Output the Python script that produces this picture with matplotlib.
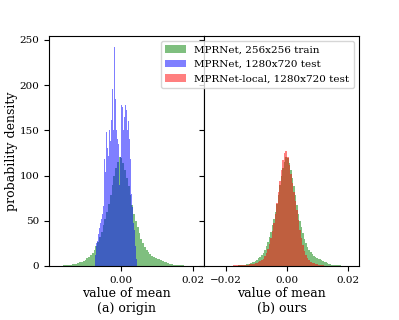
import numpy as np
import matplotlib
matplotlib.use("Agg")
import matplotlib.pyplot as plt

plt.rcParams['font.family'] = 'DejaVu Serif'

# ---- data (density per bin) ----
# MPRNet, 256x256 train : bins of 0.0005 from -0.018 to 0.0215
train_range = (-0.018, 0.0215)
train_density = [
    0.2, 0.25, 0.3, 0.4, 0.5, 0.6, 0.8, 1.0, 1.3, 1.6,
    2.0, 2.5, 3.1, 3.8, 4.7, 5.7, 7.0, 8.5, 10.2, 12.2,
    14.8, 18, 22, 27, 32, 38, 45, 52, 60, 69,
    79, 89, 99, 108, 115, 120,
    119, 114, 106, 97, 88, 78, 67, 58, 50, 43,
    36, 30, 25, 21, 18, 15.5, 13.5, 11.5, 10, 8.8,
    8.0, 7.2, 6.4, 5.5, 4.6, 3.8, 3.0, 2.4, 1.9, 1.5,
    1.2, 1.0, 0.8, 0.65, 0.55, 0.45, 0.35, 0.3, 0.25, 0.2,
    0.15, 0.1, 0.1,
]

# MPRNet, 1280x720 test : bins of 0.00025 from -0.007 to 0.0045
test_range = (-0.007, 0.0045)
test_density = [
    12, 25, 28, 35, 42, 48, 52, 58, 66, 95,
    118, 104, 148, 130, 122, 150, 138, 162, 196, 170,
    150, 242, 185, 150, 140, 135, 90, 120, 178, 160,
    176, 150, 165, 178, 172, 150, 160, 140, 118, 95,
    80, 65, 48, 40, 22, 8,
]

# MPRNet-local, 1280x720 test : bins of 0.0005 from -0.025 to 0.0215
local_range = (-0.025, 0.0215)
local_density = [
    0.1, 0.1, 0.1, 0.1, 0.1, 0.15, 0.15, 0.2, 0.2, 0.25,
    0.3, 0.3, 0.35, 0.4, 0.45, 0.5, 0.55, 0.6, 0.7, 0.8,
    0.9, 1.0, 1.1, 1.2, 1.4, 1.6, 1.8, 2.0, 2.3, 2.7,
    3.2, 4.0, 5.0, 6.3, 8.0, 10.5, 14, 18.5, 24, 31,
    39, 48, 58, 70, 82, 94, 106, 117, 125, 127,
    121, 112, 102, 92, 82, 72, 62, 51, 40, 31,
    23, 17, 12, 9, 6.5, 4.8, 3.6, 2.8, 2.1, 1.6,
    1.2, 0.9, 0.7, 0.5, 0.4, 0.35, 0.3, 0.25, 0.2, 0.2,
    0.15, 0.15, 0.1, 0.1, 0.1, 0.1, 0.1, 0.05, 0.05, 0.05,
    0.05, 0.05, 0.05,
]

labels = ["MPRNet, 256x256 train", "MPRNet, 1280x720 test",
          "MPRNet-local, 1280x720 test"]


def edges_for(rng, values):
    return np.linspace(rng[0], rng[1], len(values) + 1)


def draw_hist(ax, rng, values, color):
    edges = edges_for(rng, values)
    _, _, patches = ax.hist(edges[:-1], bins=edges, weights=values,
                            color=color, alpha=0.5)
    return patches[0]


fig, (ax1, ax2) = plt.subplots(1, 2, sharey=True, figsize=(3.99, 3.2), dpi=100)
fig.subplots_adjust(left=0.123, right=0.8997, bottom=0.169, top=0.8875, wspace=0)

# (a) origin
h_train = draw_hist(ax1, train_range, train_density, 'g')
h_test = draw_hist(ax1, test_range, test_density, 'b')

# (b) ours
draw_hist(ax2, train_range, train_density, 'g')
h_local = draw_hist(ax2, local_range, local_density, 'r')

ax1.set_xlim(-0.0199, 0.0232)
ax2.set_xlim(-0.0271, 0.0235)
ax1.set_ylim(0, 254.4)
ax1.set_xticks([0.0, 0.02])
ax2.set_xticks([-0.02, 0.0, 0.02])
ax1.set_yticks([0, 50, 100, 150, 200, 250])

for ax in (ax1, ax2):
    ax.tick_params(labelsize=7.5)

ax1.set_ylabel("probability density", fontsize=9, labelpad=1)
ax1.set_xlabel("value of mean\n(a) origin", fontsize=9, labelpad=2)
ax2.set_xlabel("value of mean\n(b) ours", fontsize=9, labelpad=2)

ax2.legend([h_train, h_test, h_local], labels, loc='upper right', fontsize=7.5)

fig.savefig("out.png", dpi=100)
